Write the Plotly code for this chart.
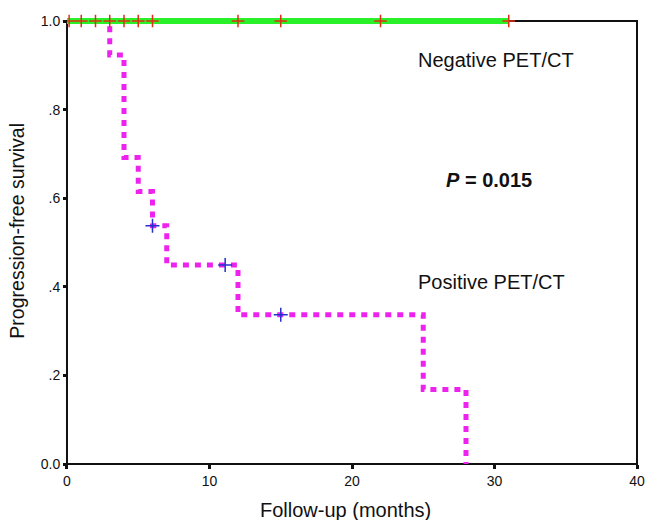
import plotly.graph_objects as go

# Negative PET/CT group (no events)
neg_times = [0, 31]
neg_surv = [1.0, 1.0]
neg_censor_t = [0.15, 1, 2, 3, 4, 5, 6, 12, 15, 22, 31]
neg_censor_s = [1.0] * len(neg_censor_t)

# Positive PET/CT group (step function)
pos_times = [0, 3, 4, 5, 6, 7, 12, 25, 28]
pos_surv = [1.0, 0.923, 0.692, 0.615, 0.538, 0.449, 0.337, 0.168, 0.0]
pos_censor_t = [6, 11.1, 15]
pos_censor_s = [0.538, 0.449, 0.337]

x_ticks = [0, 10, 20, 30, 40]
y_ticks = [0, 0.2, 0.4, 0.6, 0.8, 1.0]
y_tick_labels = ["0.0", ".2", ".4", ".6", ".8", "1.0"]

FONT = "Liberation Sans, Arial, sans-serif"

# small padding so thick lines at the frame edges are not clipped
X_PAD = 0.28
Y_PAD = 6 / 443

fig = go.Figure()

fig.add_trace(go.Scatter(
    x=pos_times, y=pos_surv, mode="lines", line_shape="hv",
    line=dict(color="#ee22ee", width=5, dash="6px,6px"),
    cliponaxis=False, showlegend=False, hoverinfo="skip"))
fig.add_trace(go.Scatter(
    x=pos_censor_t, y=pos_censor_s, mode="markers",
    marker=dict(symbol="cross-thin", size=10, line=dict(color="#2233cc", width=1.5)),
    cliponaxis=False, showlegend=False))
fig.add_trace(go.Scatter(
    x=neg_times, y=neg_surv, mode="lines",
    line=dict(color="#2af02a", width=6),
    cliponaxis=False, showlegend=False))
fig.add_trace(go.Scatter(
    x=neg_censor_t, y=neg_censor_s, mode="markers",
    marker=dict(symbol="cross-thin", size=9, line=dict(color="#e03010", width=1.5)),
    cliponaxis=False, showlegend=False))

fig.add_annotation(x=30.1, y=0.912, text="Negative PET/CT", showarrow=False,
                   font=dict(family=FONT, size=20, color="#111111"))
fig.add_annotation(x=29.6, y=0.641, text="<b><i>P</i> = 0.015</b>", showarrow=False,
                   font=dict(family=FONT, size=20, color="#111111"))
fig.add_annotation(x=29.8, y=0.411, text="Positive PET/CT", showarrow=False,
                   font=dict(family=FONT, size=20, color="#111111"))

# axis titles as paper annotations for exact placement
fig.add_annotation(xref="paper", yref="paper", x=0.488, y=-0.0879, yanchor="middle",
                   text="Follow-up (months)", showarrow=False,
                   font=dict(family=FONT, size=20, color="#111111"))
fig.add_annotation(xref="paper", yref="paper", x=-0.0787, y=0.525,
                   xanchor="center", yanchor="middle",
                   text="Progression-free survival", showarrow=False, textangle=-90,
                   font=dict(family=FONT, size=19.5, color="#111111"))

# plot frame (0..40 x 0..1) drawn beneath the curves
fig.add_shape(type="rect", xref="x", yref="y", x0=0, y0=0, x1=40, y1=1,
              line=dict(color="#111111", width=2), layer="below")

fig.update_layout(
    width=646, height=520,
    margin=dict(l=63, r=5, t=15, b=50),
    paper_bgcolor="white", plot_bgcolor="white",
    font=dict(family=FONT, color="#111111"),
)
fig.update_xaxes(
    range=[-X_PAD, 40 + X_PAD], tickvals=x_ticks, ticktext=[str(v) for v in x_ticks],
    showgrid=False, zeroline=False, showline=False,
    anchor="free", position=6 / 455,
    ticks="outside", ticklen=4, tickwidth=3, tickcolor="#111111",
    tickfont=dict(size=14, family=FONT), automargin=False,
)
fig.update_yaxes(
    range=[-Y_PAD, 1 + Y_PAD], tickvals=y_ticks, ticktext=y_tick_labels,
    showgrid=False, zeroline=False, showline=False,
    anchor="free", position=4 / 578,
    ticks="outside", ticklen=4, tickwidth=3, tickcolor="#111111",
    tickfont=dict(size=14, family=FONT), automargin=False,
)

# remove the default 8px page margin so the 646x520 figure fills the window exactly
fig.write_html(
    "out.html",
    config={"displayModeBar": False},
    post_script="document.body.style.margin='0';"
                "document.documentElement.style.overflow='hidden';",
)
